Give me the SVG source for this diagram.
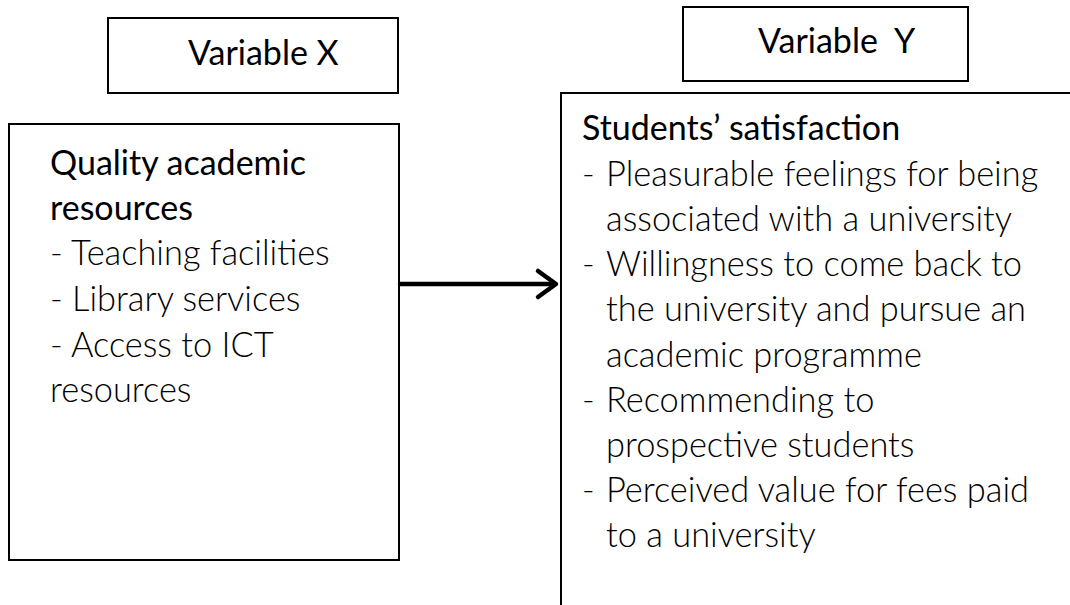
<svg xmlns="http://www.w3.org/2000/svg" width="1070" height="605" viewBox="0 0 1070 605">
<style>
.box{fill:#fff;stroke:#000;stroke-width:2}
.h{font-family:Lato,"Open Sans",sans-serif;font-size:34px;fill:#000}
.t{font-family:Lato,"Open Sans",sans-serif;font-weight:300;font-size:34.4px;fill:#000}
.conn{stroke:#000;stroke-width:4.5;fill:none;stroke-linecap:round;stroke-linejoin:round}
</style>
<rect width="1070" height="605" fill="#fff"/>
<g id="varX">
<rect class="box" x="108" y="18" width="290" height="75"/>
<text class="h" x="188" y="65">Variable X</text>
</g>
<g id="varY">
<rect class="box" x="683" y="7" width="285" height="74"/>
<text class="h" x="758" y="53" xml:space="preserve">Variable  Y</text>
</g>
<g id="nodeX">
<rect class="box" x="9" y="124" width="390" height="436"/>
<text class="h" x="50" y="175">Quality academic</text>
<text class="h" x="50" y="220">resources</text>
<text class="t" x="50" y="265">- Teaching facilities</text>
<text class="t" x="50" y="311">- Library services</text>
<text class="t" x="50" y="357">- Access to ICT</text>
<text class="t" x="50" y="402">resources</text>
</g>
<g id="nodeY">
<rect class="box" x="561" y="93" width="520" height="530"/>
<text class="h" x="582" y="140">Students’ satisfaction</text>
<g class="t">
<text x="582" y="186">-</text><text x="606" y="186">Pleasurable feelings for being</text>
<text x="606" y="231">associated with a university</text>
<text x="582" y="276">-</text><text x="606" y="276">Willingness to come back to</text>
<text x="606" y="321">the university and pursue an</text>
<text x="606" y="367">academic programme</text>
<text x="582" y="412">-</text><text x="606" y="412">Recommending to</text>
<text x="606" y="457">prospective students</text>
<text x="582" y="502">-</text><text x="606" y="502">Perceived value for fees paid</text>
<text x="606" y="547">to a university</text>
</g>
</g>
<g id="connectors">
<line class="conn" x1="400" y1="284" x2="555" y2="284"/>
<polyline class="conn" points="538,271 556,284 538,297"/>
</g>
</svg>
